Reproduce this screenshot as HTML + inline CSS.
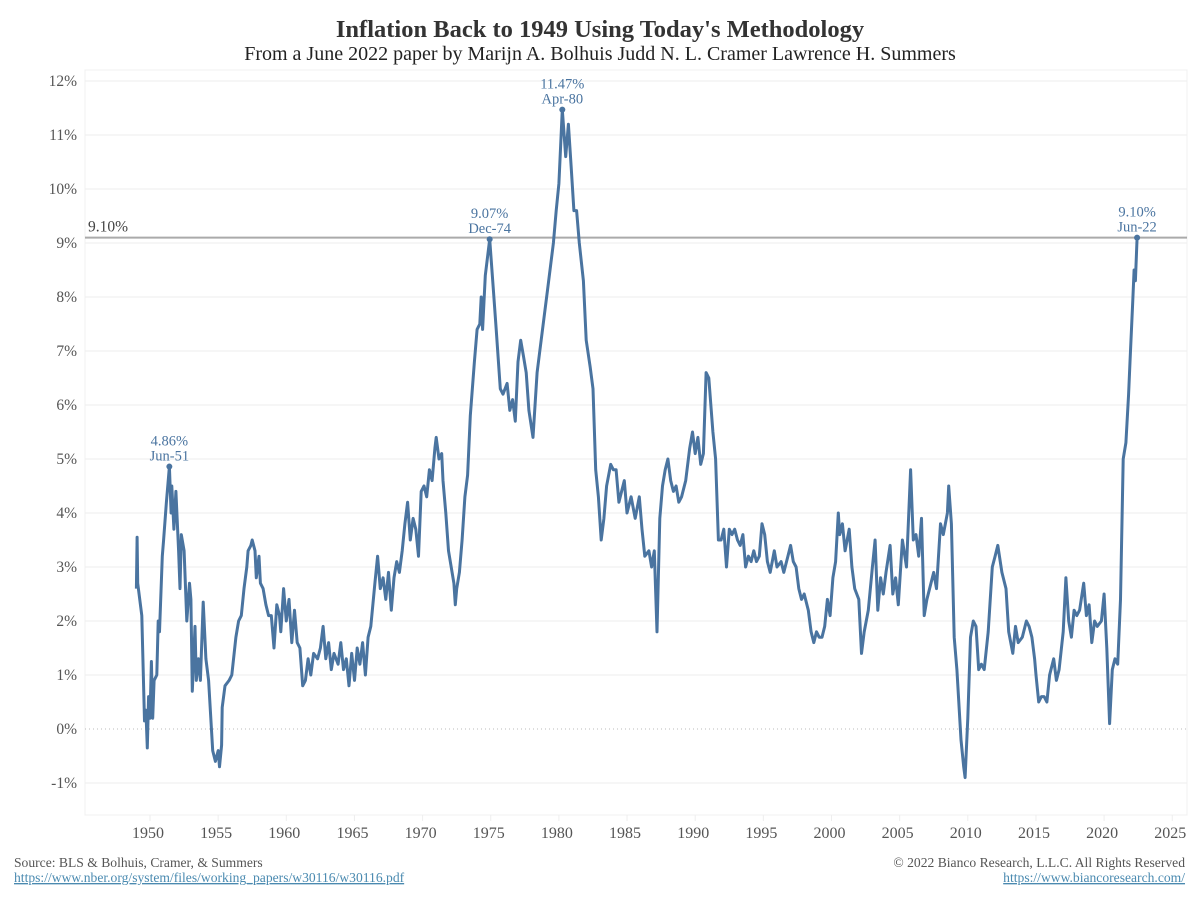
<!DOCTYPE html>
<html><head><meta charset="utf-8"><style>
body{margin:0;background:#fff;}
svg text{font-family:"Liberation Serif",serif;}
</style></head><body>
<svg width="1200" height="900" xmlns="http://www.w3.org/2000/svg">
<text x="600" y="37" text-anchor="middle" font-size="24.5" font-weight="bold" fill="#333">Inflation Back to 1949 Using Today's Methodology</text>
<text x="600" y="60" text-anchor="middle" font-size="20" fill="#222">From a June 2022 paper by Marijn A. Bolhuis Judd N. L. Cramer Lawrence H. Summers</text>
<g id="grid"></g>
<g id="axes"></g>
<g id="series"></g>
<text x="14" y="867" font-size="13.6" fill="#555">Source: BLS &amp; Bolhuis, Cramer, &amp; Summers</text>
<text x="14" y="882" font-size="13.6" fill="#4a8ab0" text-decoration="underline">https://www.nber.org/system/files/working_papers/w30116/w30116.pdf</text>
<text x="1185" y="867" font-size="13.6" fill="#555" text-anchor="end">© 2022 Bianco Research, L.L.C. All Rights Reserved</text>
<text x="1185" y="882" font-size="13.6" fill="#4a8ab0" text-anchor="end" text-decoration="underline">https://www.biancoresearch.com/</text>
</svg>
<script>
const yTicks=[-1,0,1,2,3,4,5,6,7,8,9,10,11,12];
const xTicks=[1950,1955,1960,1965,1970,1975,1980,1985,1990,1995,2000,2005,2010,2015,2020,2025];
const refValue=9.10;
const years=[1949.0,1949.05,1949.1,1949.4,1949.6,1949.7,1949.8,1949.9,1950.0,1950.1,1950.2,1950.3,1950.5,1950.6,1950.7,1950.9,1951.0,1951.2,1951.42,1951.55,1951.6,1951.75,1951.9,1952.1,1952.2,1952.3,1952.5,1952.7,1952.9,1953.0,1953.1,1953.3,1953.4,1953.55,1953.7,1953.9,1954.1,1954.3,1954.6,1954.8,1955.0,1955.1,1955.25,1955.3,1955.5,1955.8,1956.0,1956.3,1956.5,1956.7,1956.9,1957.1,1957.2,1957.4,1957.5,1957.7,1957.8,1958.0,1958.1,1958.3,1958.5,1958.7,1958.9,1959.1,1959.3,1959.5,1959.6,1959.8,1960.0,1960.2,1960.4,1960.6,1960.8,1961.0,1961.2,1961.4,1961.6,1961.8,1962.0,1962.3,1962.5,1962.7,1962.9,1963.1,1963.3,1963.5,1963.8,1964.0,1964.2,1964.4,1964.6,1964.8,1965.0,1965.2,1965.4,1965.6,1965.8,1966.0,1966.2,1966.5,1966.7,1966.9,1967.1,1967.3,1967.5,1967.7,1967.9,1968.1,1968.3,1968.5,1968.7,1968.9,1969.1,1969.3,1969.5,1969.7,1969.9,1970.1,1970.3,1970.5,1970.7,1970.9,1971.0,1971.2,1971.4,1971.5,1971.7,1971.9,1972.1,1972.3,1972.4,1972.5,1972.7,1972.9,1973.1,1973.3,1973.5,1973.8,1974.0,1974.2,1974.3,1974.4,1974.6,1974.92,1975.2,1975.4,1975.7,1975.9,1976.2,1976.4,1976.6,1976.8,1977.0,1977.2,1977.4,1977.6,1977.8,1978.1,1978.4,1978.6,1978.9,1979.2,1979.4,1979.6,1979.8,1980.0,1980.25,1980.5,1980.7,1980.9,1981.1,1981.3,1981.5,1981.8,1982.0,1982.3,1982.5,1982.7,1982.9,1983.1,1983.3,1983.5,1983.8,1984.0,1984.2,1984.4,1984.6,1984.8,1985.0,1985.3,1985.6,1985.9,1986.1,1986.3,1986.6,1986.8,1987.0,1987.2,1987.4,1987.6,1987.8,1988.0,1988.2,1988.4,1988.6,1988.8,1989.0,1989.3,1989.6,1989.8,1990.0,1990.2,1990.4,1990.6,1990.8,1991.0,1991.3,1991.5,1991.7,1991.9,1992.1,1992.3,1992.5,1992.7,1992.9,1993.1,1993.3,1993.5,1993.7,1993.9,1994.1,1994.3,1994.5,1994.7,1994.9,1995.1,1995.3,1995.5,1995.8,1996.0,1996.3,1996.5,1996.8,1997.0,1997.2,1997.4,1997.6,1997.8,1998.0,1998.3,1998.5,1998.7,1998.9,1999.1,1999.3,1999.5,1999.7,1999.9,2000.1,2000.3,2000.5,2000.6,2000.8,2001.0,2001.3,2001.5,2001.7,2002.0,2002.2,2002.4,2002.7,2003.0,2003.2,2003.4,2003.6,2003.8,2004.0,2004.3,2004.5,2004.7,2004.9,2005.2,2005.5,2005.8,2006.0,2006.2,2006.4,2006.6,2006.8,2007.0,2007.2,2007.5,2007.7,2008.0,2008.2,2008.5,2008.6,2008.8,2009.0,2009.2,2009.5,2009.7,2009.8,2010.0,2010.2,2010.4,2010.6,2010.8,2011.0,2011.2,2011.5,2011.8,2012.0,2012.2,2012.5,2012.8,2013.0,2013.3,2013.5,2013.7,2014.0,2014.3,2014.5,2014.7,2014.9,2015.0,2015.2,2015.4,2015.6,2015.8,2016.0,2016.3,2016.5,2016.7,2017.0,2017.2,2017.4,2017.6,2017.8,2018.0,2018.2,2018.5,2018.7,2018.9,2019.1,2019.3,2019.5,2019.8,2020.0,2020.2,2020.4,2020.6,2020.8,2021.0,2021.2,2021.4,2021.6,2021.8,2021.9,2022.1,2022.2,2022.3,2022.42];
const values=[2.6,3.55,2.7,2.1,0.15,0.35,-0.35,0.6,0.2,1.25,0.2,0.9,1.0,2.0,1.8,3.2,3.5,4.2,4.86,4.0,4.5,3.7,4.4,3.3,2.6,3.6,3.3,2.0,2.7,2.4,0.7,1.9,0.9,1.3,0.9,2.35,1.3,0.9,-0.4,-0.6,-0.4,-0.7,-0.3,0.4,0.8,0.9,1.0,1.7,2.0,2.1,2.6,3.0,3.3,3.4,3.5,3.3,2.8,3.2,2.7,2.6,2.3,2.1,2.1,1.5,2.3,2.1,1.8,2.6,2.0,2.4,1.6,2.2,1.6,1.5,0.8,0.9,1.3,1.0,1.4,1.3,1.5,1.9,1.3,1.6,1.1,1.4,1.2,1.6,1.1,1.3,0.8,1.4,0.9,1.5,1.2,1.6,1.0,1.7,1.9,2.7,3.2,2.6,2.8,2.4,2.9,2.2,2.8,3.1,2.9,3.3,3.8,4.2,3.5,3.9,3.7,3.2,4.4,4.5,4.3,4.8,4.6,5.2,5.4,5.0,5.1,4.6,4.0,3.3,3.0,2.7,2.3,2.6,2.9,3.5,4.3,4.7,5.8,6.8,7.4,7.5,8.0,7.4,8.4,9.07,8.1,7.4,6.3,6.2,6.4,5.9,6.1,5.7,6.8,7.2,6.9,6.6,5.9,5.4,6.6,7.0,7.6,8.2,8.6,9.0,9.6,10.1,11.47,10.6,11.2,10.4,9.6,9.6,9.0,8.3,7.2,6.7,6.3,4.8,4.3,3.5,3.9,4.5,4.9,4.8,4.8,4.2,4.4,4.6,4.0,4.3,3.9,4.3,3.7,3.2,3.3,3.0,3.3,1.8,3.9,4.5,4.8,5.0,4.6,4.4,4.5,4.2,4.3,4.6,5.2,5.5,5.1,5.4,4.9,5.1,6.6,6.5,5.5,5.0,3.5,3.5,3.7,3.0,3.7,3.6,3.7,3.5,3.4,3.6,3.0,3.2,3.1,3.3,3.1,3.2,3.8,3.6,3.1,2.9,3.3,3.0,3.1,2.9,3.2,3.4,3.1,3.0,2.6,2.4,2.5,2.2,1.8,1.6,1.8,1.7,1.7,1.9,2.4,2.1,2.8,3.1,4.0,3.6,3.8,3.3,3.7,3.0,2.6,2.4,1.4,1.8,2.2,3.0,3.5,2.2,2.8,2.5,2.9,3.4,2.5,2.8,2.3,3.5,3.0,4.8,3.5,3.6,3.2,3.9,2.1,2.4,2.6,2.9,2.6,3.8,3.6,4.0,4.5,3.8,1.7,1.1,-0.2,-0.7,-0.9,0.2,1.7,2.0,1.9,1.1,1.2,1.1,1.8,3.0,3.2,3.4,2.9,2.6,1.8,1.4,1.9,1.6,1.7,2.0,1.9,1.7,1.3,1.0,0.5,0.6,0.6,0.5,1.0,1.3,0.9,1.1,1.8,2.8,2.0,1.7,2.2,2.1,2.2,2.7,2.1,2.3,1.6,2.0,1.9,2.0,2.5,1.5,0.1,1.1,1.3,1.2,2.4,5.0,5.3,6.2,6.8,7.9,8.5,8.3,9.1];
const annYears=[1951.42,1974.92,1980.25,2022.42];
const annValues=[4.86,9.07,11.47,9.10];
const annLabels=["Jun-51","Dec-74","Apr-80","Jun-22"];

const NS="http://www.w3.org/2000/svg";
const L=85,R=1187,T=70,B=815;
function xs(y){return 150+(y-1950)*13.63;}
function ys(v){return 729-v*54;}
function mk(tag,attrs,parent){const e=document.createElementNS(NS,tag);for(const k in attrs)e.setAttribute(k,attrs[k]);parent.appendChild(e);return e;}
const grid=document.getElementById('grid'),axes=document.getElementById('axes'),ser=document.getElementById('series');
mk('rect',{x:L,y:T,width:R-L,height:B-T,fill:'none',stroke:'#f0f0f0'},grid);
yTicks.forEach(t=>{
  const ln=mk('line',{x1:L,x2:R,y1:ys(t),y2:ys(t),stroke:t===0?'#bbb':'#eeeeee','stroke-dasharray':t===0?'1,3':''},grid);
  
  
  const tx=mk('text',{x:77,y:ys(t)+5,'text-anchor':'end','font-size':15.5,fill:'#555'},axes);
  tx.textContent=t+'%';
  
  
});
xTicks.forEach(t=>{
  const ln=mk('line',{x1:xs(t),x2:xs(t),y1:B,y2:B+6,stroke:'#eee'},grid);
  
  
  const tx=mk('text',{x:xs(t)-2,y:838,'text-anchor':'middle','font-size':16,fill:'#555'},axes);
  tx.textContent=t;
  
  
});
const ref=mk('line',{x1:L,x2:R,y1:ys(refValue),y2:ys(refValue),stroke:'#aaa','stroke-width':2},ser);


const rl=mk('text',{x:88,y:ys(refValue)-6,'font-size':15.5,fill:'#444'},ser);
rl.textContent=refValue.toFixed(2)+'%';


let d='';years.forEach((y,i)=>{d+=(i?'L':'M')+xs(y).toFixed(1)+','+ys(values[i]).toFixed(1);});
const p=mk('path',{d:d,fill:'none',stroke:'#4a74a0','stroke-width':3,'stroke-linejoin':'round'},ser);


annYears.forEach((y,i)=>{
  const c=mk('circle',{cx:xs(y),cy:ys(annValues[i]),r:3,fill:'#4a74a0'},ser);
  
  
  const t1=mk('text',{x:xs(y),y:ys(annValues[i])-21,'text-anchor':'middle','font-size':14.5,fill:'#4a74a0'},ser);
  t1.textContent=annValues[i].toFixed(2)+'%';
  
  
  const t2=mk('text',{x:xs(y),y:ys(annValues[i])-6,'text-anchor':'middle','font-size':14.5,fill:'#4a74a0'},ser);
  t2.textContent=annLabels[i];
  
  
});
</script>
</body></html>
